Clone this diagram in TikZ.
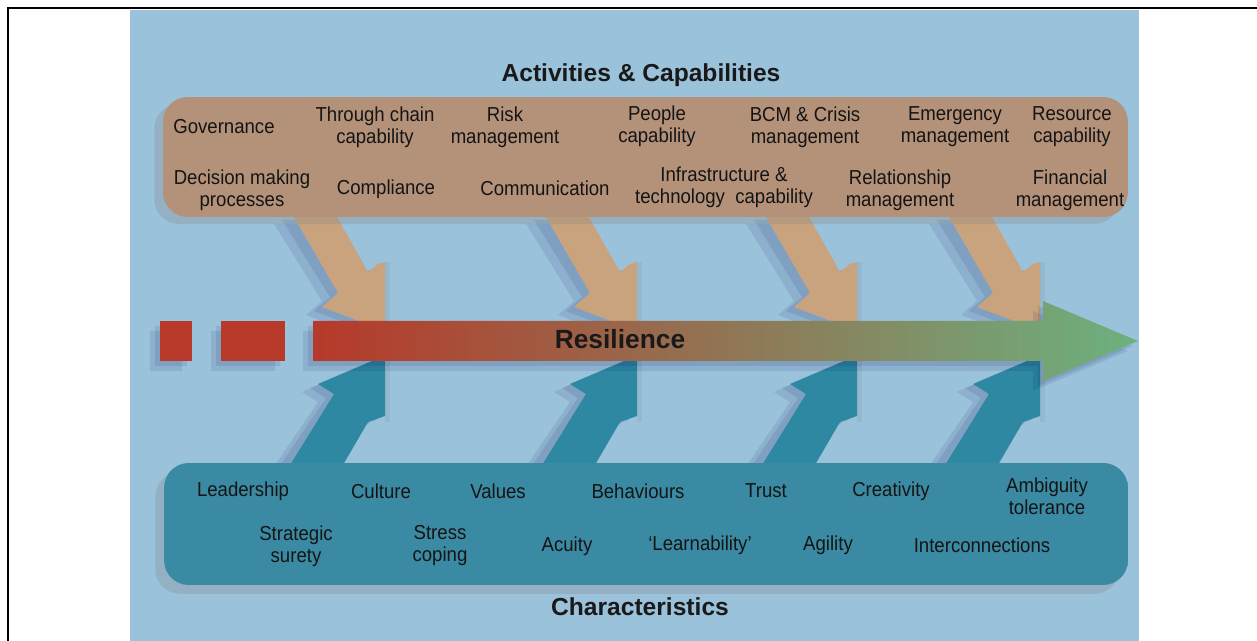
\documentclass[tikz,border=0pt]{standalone}
\usepackage{fontspec}
\setmainfont{Liberation Sans}
\newfontfamily\narrowfont{Liberation Sans}[FakeStretch=0.92]
\usetikzlibrary{shadows}

\definecolor{panelblue}{HTML}{9BC2DB}
\definecolor{boxtan}{HTML}{B4927A}
\definecolor{boxtanlight}{HTML}{A8BCB6}
\definecolor{arrowtan}{HTML}{C9A37E}
\definecolor{boxteal}{HTML}{3B8AA3}
\definecolor{boxteallight}{HTML}{62AABF}
\definecolor{arrowteal}{HTML}{2E88A2}
\definecolor{spinered}{HTML}{B6392A}
\definecolor{spinebrown}{HTML}{995B3A}
\definecolor{spinegreen}{HTML}{6CB17F}
\definecolor{cutstrip}{HTML}{93B8CF}

\tikzset{
    item/.style={font=\narrowfont\fontsize{11.5}{12.5}\selectfont, align=center, text=black!92, inner sep=0pt},
    heading/.style={font=\bfseries\fontsize{14}{16}\selectfont, text=black!90, inner sep=0pt},
    tanarrow/.style={fill=arrowtan},
    bluearrow/.style={fill=arrowteal},
    armshadow/.style={fill=black!70!blue, opacity=0.09},
    redsq/.style={fill=spinered, draw=none, inner sep=0pt},
}

\begin{document}
\begin{tikzpicture}[x=0.02cm, y=-0.02cm]
    \useasboundingbox (0,0) rectangle (1257,641);

    % page and panel
    \fill[white] (0,0) rectangle (1257,641);
    \fill[panelblue] (130,10) rectangle (1139,641);
    \draw[line width=1.3pt] (8,641) -- (8,8) -- (1257,8);

    % arrows into the spine
    \foreach \cx in {385,637,857,1040} {
        \begin{scope}[shift={(\cx-385,0)}]
            \foreach \dx/\dy in {-8/4,-16/8} {
                \fill[armshadow, shift={(\dx,\dy)}] (290,216) -- (333,216) -- (368,272) -- (385,262) -- (385,321) -- (359,321) -- (322,307) -- (338,293) -- cycle;
                \fill[armshadow, shift={(\dx,\dy)}] (287,463) -- (340,463) -- (368,422) -- (385,416) -- (385,361) -- (372,361) -- (318,384) -- (334,394) -- cycle;
            }
            \fill[cutstrip] (385,262) rectangle (390,422);
            \fill[tanarrow] (290,210) -- (333,210) -- (368,272) -- (378,264) -- (385,262) -- (385,321) -- (359,321) -- (322,307) -- (338,293) -- cycle;
            \fill[bluearrow] (287,470) -- (340,470) -- (368,422) -- (385,416) -- (385,361) -- (372,361) -- (318,384) -- (334,394) -- cycle;
        \end{scope}
    }

    % Activities box
    \node[rounded corners=14pt, minimum width=19.3cm, minimum height=2.4cm,
          left color=boxtan, middle color=boxtanlight, right color=boxtan,
          drop shadow={shadow xshift=-5pt, shadow yshift=-4pt, opacity=0.25}] (acts) at (645.5,157) {};

    % Characteristics box
    \node[rounded corners=14pt, minimum width=19.28cm, minimum height=2.44cm,
          left color=boxteal, middle color=boxteallight, right color=boxteal,
          drop shadow={shadow xshift=-5pt, shadow yshift=-5pt, opacity=0.25}] (chars) at (646,524) {};

    % Resilience spine
    \foreach \dx/\dy in {-5/5,-10/10} {
        \fill[armshadow, shift={(\dx,\dy)}] (313,321) -- (1043,321) -- (1043,301) -- (1138,341) -- (1043,381) -- (1043,361) -- (313,361) -- cycle;
        \fill[armshadow, shift={(\dx,\dy)}] (160,321) rectangle (192,361) (221,321) rectangle (285,361);
    }
    \shade[left color=spinered, middle color=spinebrown, right color=spinegreen]
        (313,321) -- (1043,321) -- (1043,301) -- (1138,341) -- (1043,381) -- (1043,361) -- (313,361) -- cycle;
    \node[redsq, minimum width=0.64cm, minimum height=0.8cm] (sq1) at (176,341) {};
    \node[redsq, minimum width=1.28cm, minimum height=0.8cm] (sq2) at (253,341) {};
    \node[font=\bfseries\fontsize{15}{17}\selectfont, text=black!90, inner sep=0pt] (res) at (620,339) {Resilience};

    % headings
    \node[heading] (acttitle) at (641,75) {Activities \& Capabilities};
    \node[heading] (chartitle) at (640,607) {Characteristics};

    % activities and capabilities
    \node[item] (gov) at (224,127) {Governance};
    \node[item] (chain) at (375,127) {Through chain\\capability};
    \node[item] (risk) at (505,127) {Risk\\management};
    \node[item] (people) at (657,126) {People\\capability};
    \node[item] (bcm) at (805,127) {BCM \& Crisis\\management};
    \node[item] (emerg) at (955,127) {Emergency\\management};
    \node[item] (resource) at (1072,127) {Resource\\capability};
    \node[item] (decision) at (242,190) {Decision making\\processes};
    \node[item] (compl) at (386,189) {Compliance};
    \node[item] (comm) at (545,188) {Communication};
    \node[item] (infra) at (724,187) {Infrastructure \&\\technology\ \ capability};
    \node[item] (relat) at (900,190) {Relationship\\management};
    \node[item] (fin) at (1070,190) {Financial\\management};

    % characteristics
    \node[item] (lead) at (243,491) {Leadership};
    \node[item] (cult) at (381,491) {Culture};
    \node[item] (val) at (498,491) {Values};
    \node[item] (behav) at (638,491) {Behaviours};
    \node[item] (trust) at (766,491) {Trust};
    \node[item] (creat) at (891,491) {Creativity};
    \node[item] (ambig) at (1047,496) {Ambiguity\\tolerance};
    \node[item] (strat) at (296,546) {Strategic\\surety};
    \node[item] (stress) at (440,546) {Stress\\coping};
    \node[item] (acuity) at (567,546) {Acuity};
    \node[item] (learn) at (700,545) {‘Learnability’};
    \node[item] (agil) at (828,545) {Agility};
    \node[item] (inter) at (982,545) {Interconnections};
\end{tikzpicture}
\end{document}
